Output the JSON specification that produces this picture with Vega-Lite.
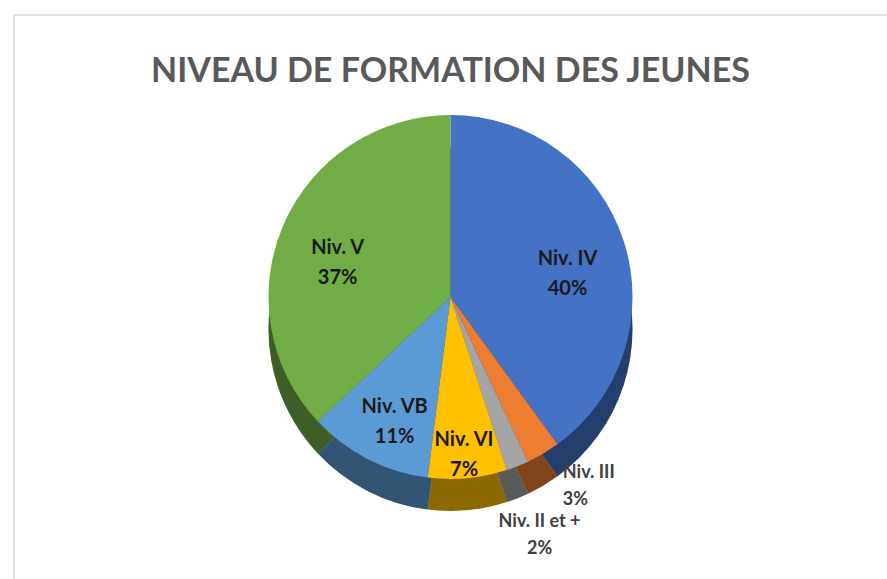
{
  "$schema": "https://vega.github.io/schema/vega-lite/v6.json",
  "autosize": "none",
  "width": 873,
  "height": 564,
  "padding": {"left": 14, "top": 15, "right": 0, "bottom": 0},
  "background": "white",
  "view": {"stroke": "#d9d9d9", "strokeWidth": 1.5, "strokeDash": [873, 1437, 564]},
  "title": {
    "text": "NIVEAU DE FORMATION  DES JEUNES",
    "font": "Lato",
    "fontSize": 34,
    "fontWeight": "bold",
    "color": "#595959",
    "anchor": "middle",
    "offset": 0,
    "baseline": "alphabetic",
    "dy": 101
  },
  "data": {
    "values": [
      {"niveau": "Niv. IV", "pct": 40, "rang": 1},
      {"niveau": "Niv. III", "pct": 3, "rang": 2},
      {"niveau": "Niv. II et +", "pct": 2, "rang": 3},
      {"niveau": "Niv. VI", "pct": 7, "rang": 4},
      {"niveau": "Niv. VB", "pct": 11, "rang": 5},
      {"niveau": "Niv. V", "pct": 37, "rang": 6}
    ]
  },
  "transform": [
    {"stack": "pct", "groupby": [], "sort": [{"field": "rang"}], "as": ["p0", "p1"]},
    {"calculate": "(datum.p0 + datum.p1) / 2", "as": "mid"},
    {"calculate": "datum.niveau + '\\n' + datum.pct + '%'", "as": "label"}
  ],
  "layer": [
    {
      "mark": {"type": "arc", "outerRadius": 182, "yOffset": 32},
      "encoding": {
        "theta": {"field": "p0", "type": "quantitative", "scale": {"domain": [0, 100]}},
        "theta2": {"field": "p1"},
        "color": {
          "field": "niveau", "type": "nominal", "legend": null,
          "scale": {
            "domain": ["Niv. IV", "Niv. III", "Niv. II et +", "Niv. VI", "Niv. VB", "Niv. V"],
            "range": ["#4472C4", "#ED7D31", "#A5A5A5", "#FFC000", "#5B9BD5", "#70AD47"]
          }
        }
      }
    },
    {
      "mark": {"type": "arc", "outerRadius": 182, "yOffset": 32, "color": "black", "opacity": 0.45},
      "encoding": {
        "theta": {"field": "p0", "type": "quantitative", "scale": {"domain": [0, 100]}},
        "theta2": {"field": "p1"}
      }
    },
    {
      "mark": {"type": "arc", "outerRadius": 182},
      "encoding": {
        "theta": {"field": "p0", "type": "quantitative", "scale": {"domain": [0, 100]}},
        "theta2": {"field": "p1"},
        "color": {"field": "niveau", "type": "nominal", "legend": null}
      }
    },
    {
      "transform": [{"filter": "datum.rang == 1 || datum.rang >= 5"}],
      "mark": {"type": "text", "radius": 123, "font": "Lato", "fontSize": 20, "fontWeight": "bold", "color": "#1a1a1a", "lineBreak": "\n", "lineHeight": 30, "baseline": "middle"},
      "encoding": {
        "theta": {"field": "mid", "type": "quantitative", "scale": {"domain": [0, 100]}},
        "text": {"field": "label"}
      }
    },
    {
      "transform": [{"filter": "datum.rang == 4"}],
      "mark": {"type": "text", "radius": 144, "font": "Lato", "fontSize": 20, "fontWeight": "bold", "color": "#1a1a1a", "lineBreak": "\n", "lineHeight": 30, "baseline": "middle"},
      "encoding": {
        "theta": {"field": "mid", "type": "quantitative", "scale": {"domain": [0, 100]}},
        "text": {"field": "label"}
      }
    },
    {
      "transform": [{"filter": "datum.rang == 2"}],
      "mark": {"type": "text", "radius": 205, "dx": 8, "align": "left", "font": "Lato", "fontSize": 18, "fontWeight": "bold", "color": "#404040", "lineBreak": "\n", "lineHeight": 27, "baseline": "middle"},
      "encoding": {
        "theta": {"field": "mid", "type": "quantitative", "scale": {"domain": [0, 100]}},
        "text": {"field": "label"}
      }
    },
    {
      "transform": [{"filter": "datum.rang == 3"}],
      "mark": {"type": "text", "radius": 242, "align": "center", "font": "Lato", "fontSize": 18, "fontWeight": "bold", "color": "#404040", "lineBreak": "\n", "lineHeight": 27, "baseline": "middle"},
      "encoding": {
        "theta": {"field": "mid", "type": "quantitative", "scale": {"domain": [0, 100]}},
        "text": {"field": "label"}
      }
    }
  ]
}
